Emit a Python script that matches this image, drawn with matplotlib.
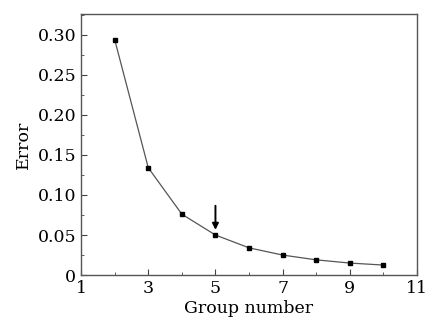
import matplotlib
matplotlib.use("Agg")
import matplotlib.pyplot as plt
from matplotlib.ticker import MultipleLocator

groups = [2, 3, 4, 5, 6, 7, 8, 9, 10]
errors = [0.294, 0.134, 0.076, 0.050, 0.034, 0.025, 0.019, 0.015, 0.0125]
x_ticks = [1, 3, 5, 7, 9, 11]
y_ticks = [0, 0.05, 0.10, 0.15, 0.20, 0.25, 0.30]
y_labels = ["0", "0.05", "0.10", "0.15", "0.20", "0.25", "0.30"]

plt.rcParams["font.family"] = ["DejaVu Serif"]

fig = plt.figure(figsize=(4.29, 3.24), dpi=100)
ax = fig.add_axes([0.189, 0.151, 0.783, 0.806])

ax.plot(groups, errors, color="#555555", lw=0.9, marker="s", ms=3.2,
        mfc="black", mec="black")
ax.annotate("", xy=(5, 0.053), xytext=(5, 0.090),
            arrowprops=dict(arrowstyle="-|>", color="black", lw=1.4,
                            mutation_scale=9))

ax.set_xlim(1, 11)
ax.set_ylim(0, 0.326)
ax.set_xticks(x_ticks)
ax.set_yticks(y_ticks)
ax.set_yticklabels(y_labels)
ax.xaxis.set_minor_locator(MultipleLocator(1))
ax.yaxis.set_minor_locator(MultipleLocator(0.025))
ax.tick_params(which="both", direction="in", top=False, right=False,
               labelsize=12.5, color="#444444")
ax.tick_params(which="major", length=4)
ax.tick_params(which="minor", length=2.5)
for s in ax.spines.values():
    s.set_color("#555555")
    s.set_linewidth(1.0)

ax.set_xlabel("Group number", fontsize=12.5, labelpad=2)
ax.set_ylabel("Error", fontsize=12.5, labelpad=4)

fig.savefig("out.png", dpi=100)
